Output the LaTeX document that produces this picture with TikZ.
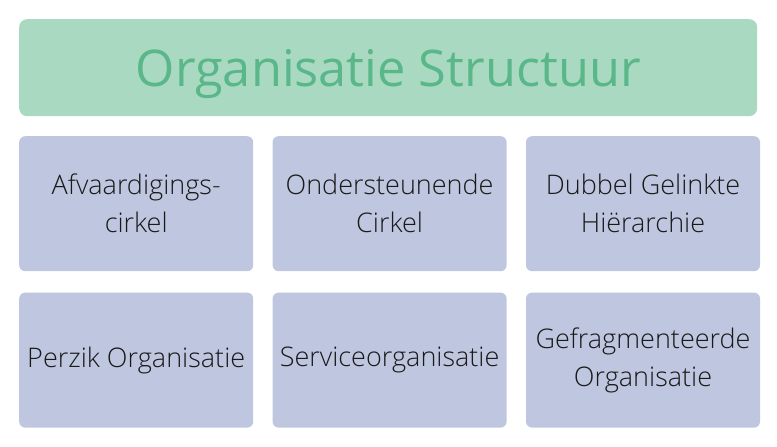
\documentclass[tikz,border=0pt]{standalone}
\usepackage{fontspec}
\setmainfont{Open Sans}[UprightFont={* Light}]
\newfontfamily\headfont{Open Sans}
\usetikzlibrary{positioning}
\definecolor{titlefill}{HTML}{A9D9C1}
\definecolor{titletext}{HTML}{5AB78A}
\definecolor{cellfill}{HTML}{BFC7E0}
\definecolor{celltext}{HTML}{1A1A1A}

\begin{document}
\begin{tikzpicture}[
  x=1pt, y=1pt,
  head/.style={fill=titlefill, text=titletext, rounded corners=8pt, minimum width=738pt, minimum height=97pt, inner sep=0pt, text depth=0pt, font=\headfont\fontsize{50.5}{54}\selectfont},
  cell/.style={fill=cellfill, text=celltext, rounded corners=6pt, minimum width=234pt, minimum height=135pt, inner sep=0pt, align=center, font=\fontsize{27}{38}\selectfont}
]
\useasboundingbox (0,0) rectangle (777,-447);

\node[head, anchor=north west] (title) at (19,-19) {Organisatie Structuur};

\node[cell, anchor=north west] (afv) at (19,-136) {Afvaardigings-\\cirkel};
\node[cell, right=19pt of afv] (ond) {Ondersteunende\\Cirkel};
\node[cell, right=19pt of ond] (dub) {Dubbel Gelinkte\\Hiërarchie};

\node[cell, below=21pt of afv] (per) {Perzik Organisatie};
\node[cell, right=19pt of per] (ser) {Serviceorganisatie};
\node[cell, right=19pt of ser] (gef) {Gefragmenteerde\\Organisatie};

\end{tikzpicture}
\end{document}
